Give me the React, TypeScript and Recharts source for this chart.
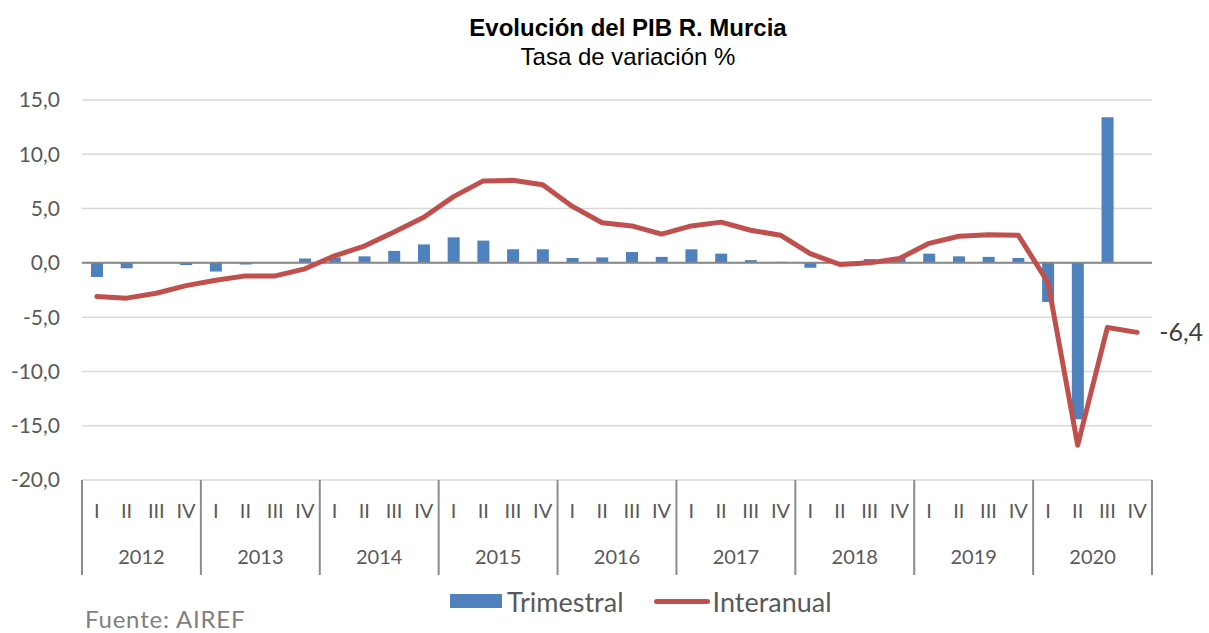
import React from 'react';
import {
  ComposedChart,
  Bar,
  Line,
  XAxis,
  YAxis,
  CartesianGrid,
  ReferenceLine,
  Legend,
  LabelList
} from 'recharts';

document.body.style.margin = '0';

const years = ['2012', '2013', '2014', '2015', '2016', '2017', '2018', '2019', '2020'];
const quarters = ['I', 'II', 'III', 'IV'];

// tasa trimestral (barras)
const trimestral = [
  -1.3, -0.5, 0.0, -0.2,
  -0.8, -0.15, 0.0, 0.4,
  0.5, 0.6, 1.1, 1.7,
  2.35, 2.05, 1.25, 1.25,
  0.45, 0.5, 1.0, 0.55,
  1.25, 0.85, 0.25, 0.1,
  -0.45, 0.0, 0.35, 0.5,
  0.85, 0.6, 0.55, 0.45,
  -3.6, -14.4, 13.4, 0.05
];

// tasa interanual (linea)
const interanual = [
  -3.1, -3.25, -2.8, -2.1,
  -1.6, -1.2, -1.2, -0.55,
  0.65, 1.55, 2.85, 4.2,
  6.1, 7.55, 7.6, 7.2,
  5.2, 3.7, 3.4, 2.65,
  3.4, 3.75, 3.0, 2.55,
  0.85, -0.15, 0.0, 0.4,
  1.8, 2.45, 2.6, 2.55,
  -1.8, -16.8, -5.95, -6.4
];

const yTicks = [-20, -15, -10, -5, 0, 5, 10, 15];

const data = years.flatMap((year, yi) =>
  quarters.map((q, qi) => ({
    key: `${year}-${q}`,
    year,
    q,
    trimestral: trimestral[yi * 4 + qi],
    interanual: interanual[yi * 4 + qi]
  }))
);

const W = 1209;
const H = 633;
const M = { top: 100, right: 57, left: 0, bottom: 23 };
const Y_W = 82;
const X_H = 100;
const BAND = (W - M.left - M.right - Y_W) / data.length;
const PLOT_BOTTOM = H - M.bottom - X_H - 30;

const fmt = (v: number) => v.toFixed(1).replace('.', ',');

const QuarterTick = (props: any) => {
  const { x, payload } = props;
  const i = payload.index;
  const d = data[i];
  const top = PLOT_BOTTOM;
  return (
    <g>
      <text x={x} y={top + 38} textAnchor="middle" fill="#595959" fontSize={20}>
        {d.q}
      </text>
      {i % 4 === 0 && (
        <line x1={x - BAND / 2} x2={x - BAND / 2} y1={top} y2={top + 95} stroke="#8c8c8c" strokeWidth={2} />
      )}
      {i === data.length - 1 && (
        <line x1={x + BAND / 2} x2={x + BAND / 2} y1={top} y2={top + 95} stroke="#8c8c8c" strokeWidth={2} />
      )}
      {i % 4 === 1 && (
        <text x={x + BAND / 2} y={top + 84} textAnchor="middle" fill="#595959" fontSize={20}>
          {d.year}
        </text>
      )}
    </g>
  );
};

const LastLabel = (props: any) => {
  const { x, y, index, value } = props;
  if (index !== data.length - 1) return null;
  return (
    <text x={x + 22} y={y + 9} fill="#404040" fontSize={25}>
      {fmt(value)}
    </text>
  );
};

const LegendContent = () => (
  <div style={{ display: 'flex', alignItems: 'center', height: 30, fontSize: 27, color: '#595959' }}>
    <span style={{ width: 52, height: 14, background: '#4f81bd', display: 'inline-block' }} />
    <span style={{ marginLeft: 5 }}>Trimestral</span>
    <span
      style={{
        width: 56,
        height: 5,
        borderRadius: 3,
        background: '#c0504d',
        display: 'inline-block',
        marginLeft: 30
      }}
    />
    <span style={{ marginLeft: 3 }}>Interanual</span>
  </div>
);

export default function App() {
  return (
    <div style={{ position: 'relative', width: W, height: H, fontFamily: 'Lato, sans-serif', background: '#fff' }}>
      <div
        style={{
          position: 'absolute',
          top: 13,
          left: 0,
          width: 1256,
          textAlign: 'center',
          fontFamily: '"Liberation Sans", Arial, sans-serif',
          fontSize: 24,
          lineHeight: '29px',
          color: '#000'
        }}
      >
        <div style={{ fontWeight: 'bold' }}>Evolución del PIB R. Murcia</div>
        <div>Tasa de variación %</div>
      </div>
      <ComposedChart width={W} height={H} data={data} margin={M}>
        <CartesianGrid vertical={false} stroke="#d9d9d9" strokeWidth={1.5} />
        <XAxis
          dataKey="key"
          interval={0}
          height={X_H}
          axisLine={false}
          tickLine={false}
          tick={<QuarterTick />}
        />
        <YAxis
          width={Y_W}
          domain={[-20, 15]}
          ticks={yTicks}
          allowDataOverflow
          axisLine={false}
          tickLine={false}
          tickMargin={16}
          tickFormatter={fmt}
          tick={{ fill: '#595959', fontSize: 21 }}
        />
        <Bar dataKey="trimestral" name="Trimestral" fill="#4f81bd" barSize={12} isAnimationActive={false} />
        <ReferenceLine y={0} stroke="#868686" strokeWidth={2} />
        <Line
          dataKey="interanual"
          name="Interanual"
          type="linear"
          stroke="#c0504d"
          strokeWidth={5}
          strokeLinejoin="round"
          strokeLinecap="round"
          dot={false}
          isAnimationActive={false}
        >
          <LabelList dataKey="interanual" content={<LastLabel />} />
        </Line>
        <Legend
          verticalAlign="bottom"
          content={<LegendContent />}
          wrapperStyle={{ top: 586, bottom: 'auto', left: 450, width: 440, height: 30 }}
        />
      </ComposedChart>
      <div
        style={{
          position: 'absolute',
          left: 85,
          top: 607,
          fontSize: 24,
          letterSpacing: 0.8,
          lineHeight: '24px',
          color: '#7f7f7f'
        }}
      >
        Fuente: AIREF
      </div>
    </div>
  );
}
